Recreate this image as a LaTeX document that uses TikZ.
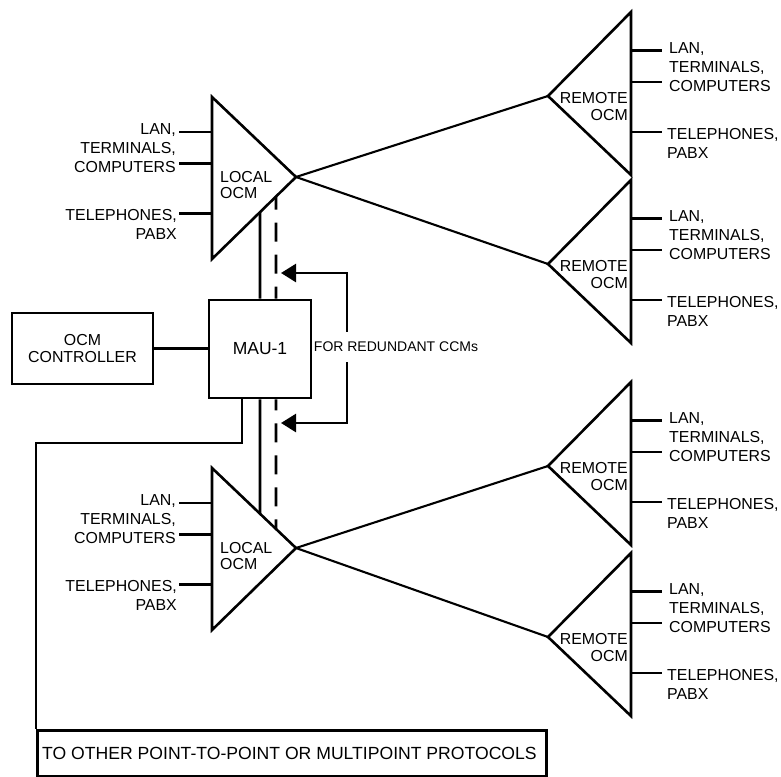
\documentclass[tikz,border=0pt]{standalone}
\usepackage{fontspec}
\setmainfont{Liberation Sans}
\usetikzlibrary{arrows.meta,calc}
\tikzset{
  ln/.style={line width=2.6pt},
  diag/.style={line width=2.1pt},
  dsh/.style={line width=2.6pt, dash pattern=on 19pt off 13pt},
  lbl/.style={font=\fontsize{15.9}{19}\selectfont, inner sep=0pt},
  ocmlbl/.style={font=\fontsize{15.9}{16}\selectfont, inner sep=0pt},
  remlbl/.style={font=\fontsize{15.9}{17}\selectfont, inner sep=0pt},
  boxnode/.style={draw, line width=2.6pt, inner sep=0pt},
  arr/.style={line width=2.6pt, -{Triangle[length=15pt,width=18pt]}},
  localocm/.pic={
    \coordinate (-tl) at (0,0);
    \coordinate (-bl) at (0,162);
    \coordinate (-apex) at (84,80);
    \draw[ln] (-tl) -- (-apex) -- (-bl) -- cycle;
    \coordinate (-i1) at (0,35);
    \coordinate (-i2) at (0,66.5);
    \coordinate (-i3) at (0,116.5);
    \draw[ln] (-33,35) -- (-i1);
    \draw[ln] (-33,66.5) -- (-i2);
    \draw[ln] (-33,116.5) -- (-i3);
    \node[lbl, align=right, anchor=east] (-ta) at (-36,51.5) {LAN,\\TERMINALS,\\COMPUTERS};
    \node[lbl, align=right, anchor=east] (-tb) at (-35,127.5) {TELEPHONES,\\PABX};
    \node[ocmlbl, align=left, anchor=west] (-name) at (8,88.5) {LOCAL\\OCM};
  },
  remoteocm/.pic={
    \coordinate (-tr) at (0,0);
    \coordinate (-br) at (0,163);
    \coordinate (-apex) at (-83,84);
    \draw[ln] (-tr) -- (-apex) -- (-br) -- cycle;
    \coordinate (-o1) at (0,38.5);
    \coordinate (-o2) at (0,70);
    \coordinate (-o3) at (0,120);
    \draw[ln] (-o1) -- (31,38.5);
    \draw[ln] (-o2) -- (31,70);
    \draw[ln] (-o3) -- (31,120);
    \node[lbl, align=left, anchor=west] (-ta) at (38,55.5) {LAN,\\TERMINALS,\\COMPUTERS};
    \node[lbl, align=left, anchor=west] (-tb) at (36,131) {TELEPHONES,\\PABX};
    \node[remlbl, align=right, anchor=east] (-name) at (-3,95) {REMOTE\\OCM};
  }
}
\begin{document}
\begin{tikzpicture}[x=1pt,y=-1pt]
\useasboundingbox (0,0) rectangle (781,776);

% local and remote OCMs
\pic (L1) at (212,97) {localocm};
\pic (L2) at (212,468) {localocm};
\pic (R1) at (631,12) {remoteocm};
\pic (R2) at (631,180) {remoteocm};
\pic (R3) at (631,382) {remoteocm};
\pic (R4) at (631,553) {remoteocm};

\draw[diag] (L1-apex) -- (R1-apex);
\draw[diag] (L1-apex) -- (R2-apex);
\draw[diag] (L2-apex) -- (R3-apex);
\draw[diag] (L2-apex) -- (R4-apex);

% MAU and controller
\node[boxnode, minimum width=102pt, minimum height=98pt,
      font=\fontsize{17.5}{20}\selectfont] (mau) at (260,349) {MAU-1};
\node[boxnode, minimum width=141pt, minimum height=71pt, align=center,
      font=\fontsize{15.9}{16.5}\selectfont] (ctrl) at (82.5,348.5) {OCM\\CONTROLLER};
\draw[ln] (ctrl.east) -- (ctrl.east -| mau.west);

% solid links MAU - local OCMs
\draw[ln] (mau.north) -- (intersection cs: first line={(L1-apex)--(L1-bl)},
   second line={(mau.north)--($(mau.north)+(0,-100)$)});
\draw[ln] (mau.south) -- (intersection cs: first line={(L2-tl)--(L2-apex)},
   second line={(mau.south)--($(mau.south)+(0,100)$)});

% dashed redundant links
\coordinate (dn) at ($(mau.north)+(16,0)$);
\coordinate (ds) at ($(mau.south)+(16,0)$);
\draw[dsh, dash phase=7pt] (dn) -- (intersection cs: first line={(L1-apex)--(L1-bl)},
   second line={(dn)--($(dn)+(0,-100)$)});
\draw[dsh, dash phase=8pt] (ds) -- (intersection cs: first line={(L2-tl)--(L2-apex)},
   second line={(ds)--($(ds)+(0,100)$)});

% redundant CCM arrows
\node[inner sep=0pt, minimum height=30pt, font=\fontsize{14}{16}\selectfont]
   (red) at (396,347) {FOR REDUNDANT CCMs};
\coordinate (vx) at (347,0);
\coordinate (tip1) at (281,273);
\coordinate (tip2) at (281,423);
\draw[arr] (red.north -| vx) |- (tip1);
\draw[arr] (red.south -| vx) |- (tip2);

% other protocols
\node[boxnode, minimum width=509pt, minimum height=46pt, anchor=north west]
   (proto) at (36,729) {};
\node[inner sep=0pt, anchor=west, font=\fontsize{17.6}{20}\selectfont]
   (protolbl) at ($(proto.west)+(6,0)$) {TO OTHER POINT-TO-POINT OR MULTIPOINT PROTOCOLS};
\coordinate (bend) at (36,443);
\draw[ln] ($(mau.south)+(-18,0)$) |- (bend) -- (proto.north west);
\end{tikzpicture}
\end{document}
